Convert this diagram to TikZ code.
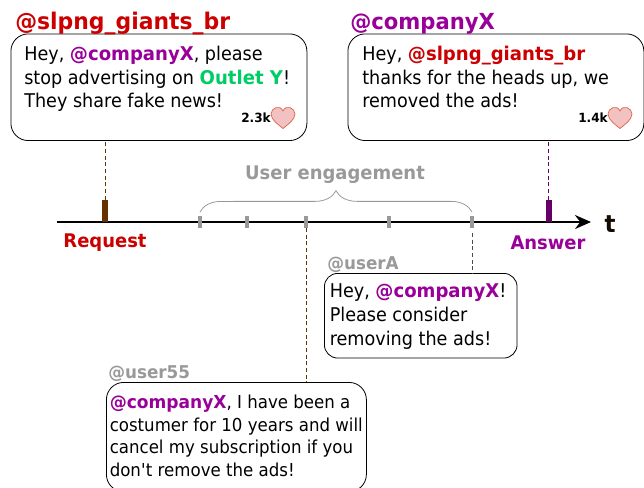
\documentclass[tikz,border=0pt]{standalone}
\usepackage{fontspec}
\setmainfont{DejaVu Sans}[FakeStretch=0.93,BoldFeatures={FakeStretch=0.955}]
\usepackage{xcolor}
\usetikzlibrary{arrows.meta,positioning,decorations.pathreplacing}
\definecolor{twred}{RGB}{204,0,0}
\definecolor{twpurple}{RGB}{153,0,153}
\definecolor{twgreen}{RGB}{0,204,102}
\definecolor{twgray}{RGB}{153,153,153}
\definecolor{twbrown}{RGB}{102,51,0}
\definecolor{twdark}{RGB}{102,0,102}
\newcommand{\cmpy}{\textcolor{twpurple}{\textbf{@companyX}}}
\newcommand{\slpng}{\textcolor{twred}{\textbf{@slpng\_giants\_br}}}
\tikzset{
  tweet/.style={rectangle, rounded corners=13pt, draw=black, fill=white, line width=0.6pt, anchor=north west, inner sep=0pt},
  tweettext/.style={anchor=north west, inner sep=0pt, align=left, font=\fontsize{14.2}{17.7}\selectfont},
  handle/.style={anchor=base west, inner sep=0pt, font=\fontsize{17.2}{17}\selectfont\bfseries},
  smallhandle/.style={anchor=base west, inner sep=0pt, text=twgray, font=\fontsize{13.2}{13.2}\selectfont\bfseries},
  timelabel/.style={inner sep=0pt, font=\fontsize{14.1}{14.1}\selectfont\bfseries},
  likes/.style={anchor=east, inner sep=0pt, font=\fontsize{9.5}{9.5}\selectfont\bfseries},
  tick/.style={rectangle, fill=twgray, inner sep=0pt, minimum width=2.6pt, minimum height=8.5pt},
  marker/.style={rectangle, inner sep=0pt, minimum width=4.5pt, minimum height=16.5pt},
  link/.style={densely dashed, line width=0.6pt},
  heart/.pic={
    \draw[draw=red!40!brown!90, fill=red!20!white!95!black, line width=0.5pt]
      (0,11.5) .. controls (-4,8) and (-12,3) .. (-12,-3)
      .. controls (-12,-9) and (-3,-13) .. (0,-6)
      .. controls (3,-13) and (12,-9) .. (12,-3)
      .. controls (12,3) and (4,8) .. (0,11.5) -- cycle;
  }
}
\begin{document}
\begin{tikzpicture}[x=0.75pt, y=-0.75pt]
\useasboundingbox (0,0) rectangle (644,487);
% Top tweets
\node (request) [tweet, minimum width=222pt, minimum height=80pt] at (10.5,33.5) {};
\node (answer) [tweet, minimum width=222pt, minimum height=80pt] at (347.5,33.5) {};
\node (reqtext) [tweettext] at (24,46) {Hey, \cmpy, please\\stop advertising on \textcolor{twgreen}{\textbf{Outlet Y}}!\\They share fake news!};
\node (anstext) [tweettext] at (362,46) {Hey, \slpng\\thanks for the heads up, we\\removed the ads!};
\node (reqname) [handle, text=twred] at (15,29) {@slpng\_giants\_br};
\node (ansname) [handle, text=twpurple, font=\fontsize{16.6}{17}\selectfont\bfseries] at (350,29) {@companyX};

% Likes
\path (283,117) pic {heart};
\path (620,117) pic {heart};
\node (reqlikes) [likes] at (271,118) {2.3k};
\node (anslikes) [likes] at (608,118) {1.4k};

% Timeline
\coordinate (tstart) at (57,222);
\coordinate (tend) at (591,222);
\draw[line width=1.5pt, -{Stealth[length=12pt,width=10.5pt]}] (tstart) -- (tend);
\node (reqmark) [marker, fill=twbrown] at (105,211) {};
\node (ansmark) [marker, fill=twdark] at (548.5,211) {};
\foreach \name/\x in {ta/200, tb/247, tc/306, td/389, te/472} {
  \node (\name) [tick] at (\x,222) {};
}
\node (tlabel) [timelabel, text=black!80!twbrown, font=\fontsize{18}{18}\selectfont\bfseries] at (610,224) {t};
\node (reqlabel) [timelabel, text=twred] at (105,242.5) {Request};
\node (anslabel) [timelabel, text=twpurple] at (548,242.5) {Answer};

% Engagement brace
\draw[twgray, line width=0.6pt, decorate, decoration={brace, amplitude=16pt}] (ta.north) ++(0,-4) -- (te.north |- 0,212);
\node (engage) [timelabel, text=twgray] at (335,175) {User engagement};

% Replies
\node (usera) [tweet, minimum width=144.5pt, minimum height=63.5pt, rounded corners=10pt] at (324,273) {};
\node (user55) [tweet, minimum width=195pt, minimum height=82pt, rounded corners=13pt] at (106,382) {};
\node (usertext) [tweettext, font=\fontsize{14.2}{18}\selectfont] at (329.5,283) {Hey, \cmpy!\\Please consider\\removing the ads!};
\node (user55text) [tweettext, font=\fontsize{13.4}{16.8}\selectfont] at (109.5,395) {\cmpy, I have been a\\costumer for 10 years and will\\cancel my subscription if you\\don\textquotesingle t remove the ads!};
\node (uname) [smallhandle] at (327,269) {@userA};
\node (u55name) [smallhandle] at (108,378) {@user55};

% Connectors
\draw[link, twbrown] (reqmark.north) -- (reqmark.north |- request.south);
\draw[link, twdark] (ansmark.north) -- (ansmark.north |- answer.south);
\draw[link, twbrown] (tc.south) -- (tc.south |- user55.north);
\draw[link, black!70] (te.south) ++(0,5) -- (te.south |- usera.north);
\end{tikzpicture}
\end{document}
